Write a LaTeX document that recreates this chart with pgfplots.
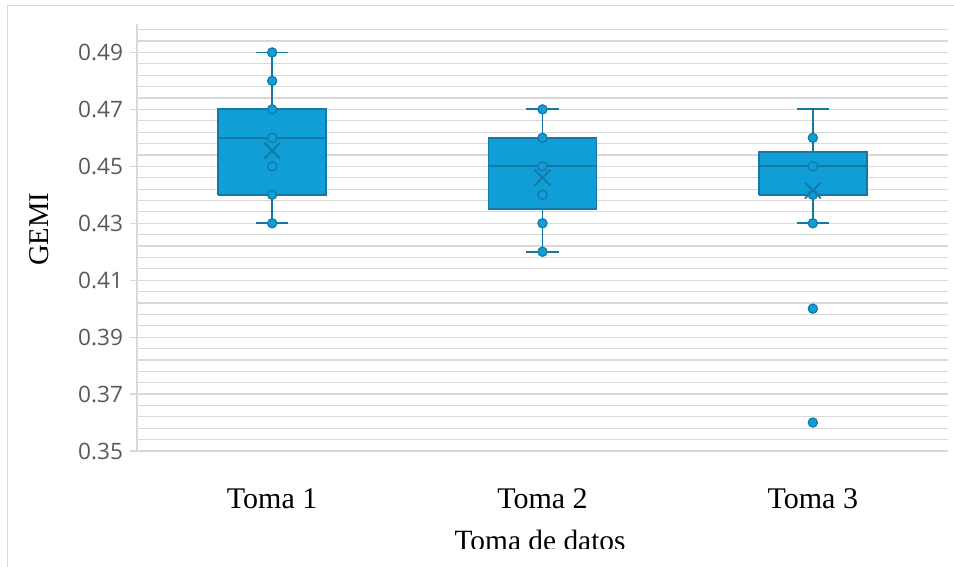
\documentclass[border=0pt]{standalone}
\usepackage{pgfplots}
\pgfplotsset{compat=1.18}
\usepackage{fontspec}
\setmainfont{Liberation Serif}
\newfontfamily\tickfont{Open Sans}
\definecolor{boxfill}{HTML}{0F9ED5}
\definecolor{boxline}{HTML}{1478A7}
\definecolor{gridc}{HTML}{D9D9D9}
\definecolor{tickc}{HTML}{595959}
\begin{document}
\begin{tikzpicture}
\useasboundingbox (0,0) rectangle (477pt,283.5pt);
\draw[gridc, line width=0.5pt] (3.5pt,-20pt) -- (3.5pt,280.5pt) -- (500pt,280.5pt);
\begin{axis}[
  at={(68.5pt,58pt)}, anchor=south west,
  width=405.5pt, height=213.5pt, scale only axis,
  xmin=0.5, xmax=3.5, ymin=0.35, ymax=0.50,
  xtick={1,2,3}, xticklabels={Toma 1, Toma 2, Toma 3},
  major x tick style={draw=none},
  xticklabel style={font=\fontsize{15}{17}\selectfont, yshift=-12pt},
  ytick={0.35,0.37,0.39,0.41,0.43,0.45,0.47,0.49},
  minor ytick={0.35,0.354,0.358,0.362,0.366,0.370,0.374,0.378,0.382,0.386,0.390,0.394,0.398,0.402,0.406,0.410,0.414,0.418,0.422,0.426,0.430,0.434,0.438,0.442,0.446,0.450,0.454,0.458,0.462,0.466,0.470,0.474,0.478,0.482,0.486,0.490,0.494,0.498},
  yminorgrids,
  minor grid style={gridc, line width=0.6pt},
  minor tick length=0pt,
  tick align=outside, major tick length=3.5pt,
  major y tick style={gridc, line width=0.6pt},
  yticklabel style={font=\tickfont\fontsize{11.3}{13}\selectfont, text=tickc},
  /pgf/number format/assume math mode=true,
  yticklabel={\pgfmathprintnumber[fixed,fixed zerofill,precision=2]{\tick}},
  axis lines*=left,
  axis line style={-, gridc, line width=0.6pt},
  ylabel={GEMI},
  ylabel style={font=\fontsize{14.3}{16}\selectfont, at={(axis description cs:-0.121,0.519)}, anchor=center},
  xlabel={Toma de datos},
  xlabel style={font=\fontsize{14.7}{16}\selectfont, at={(axis description cs:0.497,-0.234)}, anchor=base},
  clip=false,
  unbounded coords=jump,
]
% boxes (quartiles)
\addplot[fill=boxfill, draw=boxline, line width=0.9pt, line join=miter] coordinates {(0.8,0.44) (1.2,0.44) (1.2,0.47) (0.8,0.47) (0.8,0.44)};
\addplot[fill=boxfill, draw=boxline, line width=0.9pt, line join=miter] coordinates {(1.8,0.435) (2.2,0.435) (2.2,0.46) (1.8,0.46) (1.8,0.435)};
\addplot[fill=boxfill, draw=boxline, line width=0.9pt, line join=miter] coordinates {(2.8,0.44) (3.2,0.44) (3.2,0.455) (2.8,0.455) (2.8,0.44)};
% medians
\addplot[draw=boxline, line width=0.9pt] coordinates {(0.8,0.46) (1.2,0.46) (nan,nan) (1.8,0.45) (2.2,0.45) (nan,nan) (2.8,0.45) (3.2,0.45)};
% whiskers
\addplot[draw=boxline, line width=0.9pt] coordinates {
(1,0.47) (1,0.49) (nan,nan) (0.94,0.49) (1.06,0.49) (nan,nan)
(1,0.44) (1,0.43) (nan,nan) (0.94,0.43) (1.06,0.43) (nan,nan)
(2,0.46) (2,0.47) (nan,nan) (1.94,0.47) (2.06,0.47) (nan,nan)
(2,0.435) (2,0.42) (nan,nan) (1.94,0.42) (2.06,0.42) (nan,nan)
(3,0.455) (3,0.47) (nan,nan) (2.94,0.47) (3.06,0.47) (nan,nan)
(3,0.44) (3,0.43) (nan,nan) (2.94,0.43) (3.06,0.43)
};
% data points
\addplot[only marks, mark=*, mark size=2.3pt, mark options={fill=boxfill, draw=boxline, line width=0.6pt}] coordinates {
(1,0.49) (1,0.48) (1,0.47) (1,0.46) (1,0.45) (1,0.44) (1,0.43)
(2,0.47) (2,0.46) (2,0.45) (2,0.44) (2,0.43) (2,0.42)
(3,0.46) (3,0.45) (3,0.44) (3,0.43) (3,0.40) (3,0.36)
};
% means
\addplot[only marks, mark=x, mark size=5.6pt, mark options={draw=boxline, line width=0.9pt}] coordinates {
(1,0.4555) (2,0.446) (3,0.4415)
};
\end{axis}
\fill[white] (5pt,-5pt) rectangle (490pt,9pt);
\end{tikzpicture}
\end{document}
